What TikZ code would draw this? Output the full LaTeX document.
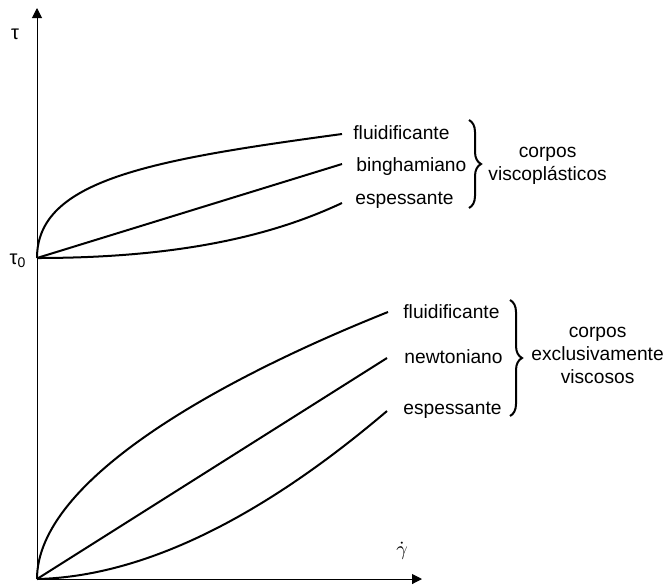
\documentclass[tikz,border=0pt]{standalone}
\usepackage{fontspec}
\setmainfont{Liberation Sans}
\usetikzlibrary{arrows.meta, positioning, decorations.pathreplacing}
\tikzset{
    rheoaxis/.style={-{Triangle[length=5pt, width=5pt]}, line width=0.5pt},
    rheocurve/.style={line width=1pt},
    rheolabel/.style={anchor=base west, inner sep=0pt, font=\fontsize{9.6}{11}\selectfont},
    rheosym/.style={inner sep=0pt, font=\fontsize{10}{12}\selectfont},
    rheobrace/.style={decorate, decoration={brace, amplitude=6pt}, line width=1pt},
    rheogroup/.style={anchor=west, align=center, inner sep=0pt, font=\fontsize{9.6}{11.5}\selectfont}
}

\begin{document}
\begin{tikzpicture}[x=0.5pt, y=-0.5pt]
\useasboundingbox (0,0) rectangle (672,584);

% axes
\coordinate (origin) at (37,579);
\coordinate (ytip) at (37,8);
\coordinate (xtip) at (422,579);
\coordinate (tauzero) at (37,258);
\draw[rheoaxis] (origin) -- (ytip);
\draw[rheoaxis] (origin) -- (xtip);
\node[rheosym] (tau) at (15,34) {τ};
\node[rheosym] (tauzerolabel) at (18,261) {τ\textsubscript{0}};
\node[rheosym] (gammadot) at (402,551) {$\dot{\gamma}$};

% viscoplastic bodies
\coordinate (fluidtop) at (342,134);
\coordinate (binghtop) at (342,164);
\coordinate (espetop) at (342,203);
\draw[rheocurve] (tauzero) .. controls (37,180) and (150,160) .. (fluidtop);
\draw[rheocurve] (tauzero) -- (binghtop);
\draw[rheocurve] (tauzero) .. controls (190,258) and (280,232) .. (espetop);
\node[rheolabel] (fluidtoplabel) at (353,139) {fluidificante};
\node[rheolabel] (binghlabel) at (356,171) {binghamiano};
\node[rheolabel] (espetoplabel) at (355,204) {espessante};

\coordinate (bracetopa) at (469,120);
\coordinate (bracetopb) at (469,208);
\draw[rheobrace] (bracetopa) -- (bracetopb);
\node[rheogroup] (viscoplast) at (488,166) {corpos\\viscoplásticos};

% purely viscous bodies
\coordinate (fluidbot) at (388,312);
\coordinate (newtbot) at (387,358);
\coordinate (espebot) at (387,411);
\draw[rheocurve] (origin) .. controls (37,480) and (220,379) .. (fluidbot);
\draw[rheocurve] (origin) -- (newtbot);
\draw[rheocurve] (origin) .. controls (170,576) and (300,485) .. (espebot);
\node[rheolabel] (fluidbotlabel) at (403,318) {fluidificante};
\node[rheolabel] (newtlabel) at (404,363) {newtoniano};
\node[rheolabel] (espebotlabel) at (403,414) {espessante};

\coordinate (bracebota) at (510,300);
\coordinate (bracebotb) at (510,416);
\draw[rheobrace] (bracebota) -- (bracebotb);
\node[rheogroup] (viscous) at (531,355) {corpos\\exclusivamente\\viscosos};

\end{tikzpicture}
\end{document}
